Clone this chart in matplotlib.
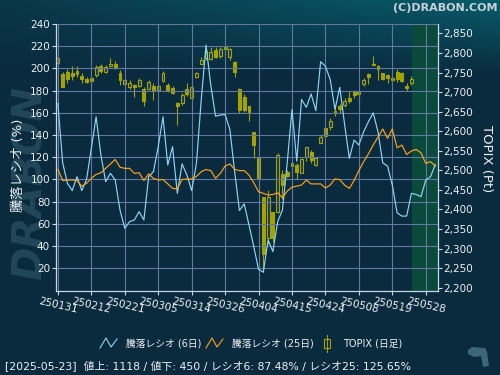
import numpy as np
import matplotlib
matplotlib.use('Agg')
import matplotlib.pyplot as plt
from matplotlib.lines import Line2D
from matplotlib.patches import Rectangle, Polygon
import matplotlib.ticker as mticker

# ---------------- data ----------------
tick_labels = ['250131', '250212', '250221', '250305', '250314', '250326',
               '250404', '250415', '250424', '250508', '250519', '250528']
tick_index = [0, 7, 14, 21, 28, 35, 42, 49, 56, 63, 70, 77]

ratio6 = [168.5, 115, 96.5, 90, 102.5, 90, 100, 128, 156.5, 122,
          98, 105.5, 99.5, 72.5, 56, 62, 63.5, 71, 63.5, 102.5,
          107, 129.5, 156.5, 113, 129.5, 87.5, 114, 104, 90, 114.5,
          171.5, 221, 185, 157, 158, 158.5, 145, 107, 72, 78,
          59, 39.5, 19, 16.5, 45.5, 35, 62, 72.5, 115, 163,
          116.5, 172, 165, 177, 162, 206, 202, 190, 163, 183,
          150, 119, 135.5, 131, 143, 152, 160, 143, 115, 112,
          95, 70, 67, 67, 87.48, 86.5, 84.5, 99.5, 102.5, 113.5]

ratio25 = [109, 99, 99.5, 99.5, 99, 94, 96.5, 101, 104.5, 106,
           110, 114, 118, 111, 110, 110, 105.5, 106, 99, 105,
           101, 99.5, 100, 96, 92, 91.5, 100, 100.4, 100.4, 102.7,
           107, 109, 108, 101, 105.5, 112, 114, 109, 108, 108,
           104, 97, 89, 87.5, 86, 86.5, 88, 83.5, 89.5, 93,
           94, 95, 99.5, 96, 96, 96, 92.3, 95, 100.5, 99.8,
           95, 92, 99, 108, 116, 123, 131, 138, 145.5, 137,
           145.5, 128.5, 131, 122.5, 125.65, 127, 124, 114.5, 116, 112]

topix_open = [2774, 2747, 2752, 2749, 2754, 2742, 2734, 2737, 2743, 2766,
              2752, 2767, 2772, 2749, 2720, 2712, 2717, 2715, 2709, 2709,
              2715, 2705, 2729, 2718, 2711, 2673, 2671, 2707, 2686, 2738,
              2773, 2786, 2784, 2807, 2791, 2816, 2790, 2777, 2707, 2688,
              2664, 2599, 2535, 2433, 2326, 2394, 2393, 2490, 2495, 2519,
              2514, 2494, 2533, 2548, 2514, 2571, 2607, 2610, 2652, 2664,
              2667, 2686, 2700, 2701, 2721, 2745, 2773, 2767, 2748, 2744,
              2737, 2752, 2748, 2715, 2724]
topix_high = [2792, 2751, 2758, 2766, 2766, 2748, 2739, 2741, 2769, 2773,
              2769, 2786, 2779, 2756, 2737, 2731, 2720, 2735, 2714, 2731,
              2722, 2724, 2754, 2724, 2715, 2675, 2697, 2724, 2718, 2752,
              2789, 2812, 2814, 2814, 2816, 2820, 2812, 2779, 2710, 2695,
              2664, 2599, 2537, 2433, 2451, 2394, 2545, 2501, 2501, 2526,
              2518, 2531, 2560, 2552, 2535, 2590, 2611, 2633, 2664, 2669,
              2685, 2703, 2705, 2704, 2735, 2748, 2792, 2769, 2750, 2746,
              2739, 2758, 2751, 2722, 2740]
topix_low = [2770, 2712, 2724, 2732, 2739, 2722, 2722, 2718, 2739, 2748,
             2748, 2763, 2758, 2718, 2715, 2707, 2688, 2712, 2664, 2705,
             2681, 2701, 2726, 2701, 2695, 2616, 2667, 2690, 2682, 2735,
             2771, 2782, 2782, 2786, 2786, 2795, 2782, 2739, 2646, 2649,
             2627, 2531, 2437, 2241, 2312, 2318, 2390, 2428, 2483, 2496,
             2477, 2492, 2525, 2518, 2511, 2569, 2583, 2603, 2639, 2647,
             2662, 2672, 2684, 2673, 2715, 2721, 2768, 2732, 2731, 2722,
             2721, 2726, 2726, 2703, 2718]
topix_close = [2787, 2714, 2733, 2741, 2746, 2733, 2726, 2728, 2765, 2754,
               2763, 2773, 2762, 2731, 2732, 2724, 2712, 2732, 2678, 2726,
               2705, 2715, 2749, 2705, 2698, 2665, 2692, 2695, 2714, 2748,
               2782, 2805, 2803, 2789, 2809, 2809, 2811, 2752, 2655, 2655,
               2647, 2565, 2478, 2286, 2433, 2326, 2539, 2462, 2486, 2511,
               2496, 2528, 2559, 2526, 2532, 2584, 2588, 2627, 2646, 2657,
               2678, 2678, 2692, 2694, 2731, 2739, 2769, 2759, 2733, 2737,
               2731, 2733, 2729, 2710, 2733]

footer = '[2025-05-23]  値上: 1118 / 値下: 450 / レシオ6: 87.48% / レシオ25: 125.65%'

# ---------------- style ----------------
W, H = 500, 375
C_BLUE = '#8fd4f4'
C_ORANGE = '#ffa418'
C_OLIVE = '#a3a300'
C_PLOT = '#1a365f'
C_GREEN = '#0a4a3b'
C_GRID = '#62789e'
C_TEXT = '#eef0f2'
C_SPINE = '#c8d8e8'
JP = ['DejaVu Sans', 'Noto Sans CJK JP']


def fx(p):
    return p / W


def fy(p):
    return 1 - p / H


fig = plt.figure(figsize=(5, 3.75), dpi=100)

# background gradient
bg = fig.add_axes([0, 0, 1, 1], zorder=-10)
yy, xx = np.mgrid[0:H, 0:W]
wgt = np.clip(1 - yy / 75.0, 0, 1) * (0.25 + 0.75 * xx / W)
base = np.array([10, 42, 62]) / 255.0
teal = np.array([8, 92, 106]) / 255.0
img = base + wgt[..., None] * (teal - base)
bg.imshow(img, aspect='auto', extent=[0, 1, 0, 1], interpolation='bilinear')
bg.axis('off')

# watermark
fig.text(fx(31), fy(183), 'DRABON', rotation=90, fontsize=29, fontweight='heavy',
         style='italic', color='#3c6a7a', alpha=0.45, ha='center', va='center',
         zorder=-5)

rect = [55.5 / W, 84.5 / H, (437.7 - 55.5) / W, (290.5 - 24) / H]
ax = fig.add_axes(rect)
ax2 = ax.twinx()
ax.set_zorder(2)
ax2.set_zorder(1)
ax.patch.set_visible(False)
ax2.patch.set_facecolor(C_PLOT)

n = len(ratio6)
x = np.arange(n)
ax.set_xlim(-0.5, n - 0.5)
ax.set_ylim(0, 240)
ax2.set_ylim(2193, 2874)

# future zone
ax2.axvspan(74.2, n - 0.5, color=C_GREEN, zorder=0, lw=0)

# candles
for i in range(len(topix_open)):
    o, h, l, c = topix_open[i], topix_high[i], topix_low[i], topix_close[i]
    ax2.vlines(i, l, h, color=C_OLIVE, lw=0.8, zorder=2)
    down = c < o
    ax2.add_patch(Rectangle((i - 0.3, min(o, c)), 0.6, max(abs(c - o), 1.0),
                            facecolor=C_OLIVE if down else C_PLOT,
                            edgecolor=C_OLIVE, lw=0.8, zorder=3))

# ratio lines
ax.plot(x, ratio6, color=C_BLUE, lw=0.85, zorder=3)
ax.plot(x, ratio25, color=C_ORANGE, lw=0.85, zorder=3)

# ticks / grid
ax.set_yticks(range(20, 241, 20))
ax2.set_yticks(range(2200, 2851, 50))
ax2.yaxis.set_major_formatter(mticker.StrMethodFormatter('{x:,.0f}'))
ax.set_xticks(tick_index)
ax.set_xticklabels(tick_labels, rotation=-13, ha='center', va='top')
ax.grid(True, color=C_GRID, lw=0.8)
ax.tick_params(axis='both', colors=C_SPINE, labelcolor=C_TEXT, labelsize=7.5,
               length=3, width=0.8, pad=1)
ax2.tick_params(axis='y', colors=C_SPINE, labelcolor=C_TEXT, labelsize=7.5,
                length=3, width=0.8, pad=1)
for a in (ax, ax2):
    a.spines['top'].set_visible(False)
    for s in ('left', 'right', 'bottom'):
        a.spines[s].set_color(C_SPINE)
        a.spines[s].set_linewidth(0.9)
ax.spines['right'].set_visible(False)
ax2.spines['left'].set_visible(False)
ax2.spines['bottom'].set_visible(False)

# axis titles
fig.text(fx(18), fy(165), '騰落レシオ (%)', rotation=90, ha='center', va='center',
         fontsize=9.5, color=C_TEXT, family=JP)
fig.text(fx(486), fy(159), 'TOPIX (Pt)', rotation=-90, ha='center', va='center',
         fontsize=9.5, color=C_TEXT, family=JP)
fig.text(fx(497), fy(8), '(C)DRABON.COM', ha='right', va='center', fontsize=8,
         fontweight='bold', color='#c8d2da')

# legend
def zig(x0, col):
    fig.add_artist(Line2D([fx(x0), fx(x0 + 6), fx(x0 + 11), fx(x0 + 17)],
                          [fy(348), fy(338), fy(347), fy(339)],
                          transform=fig.transFigure, color=col, lw=0.8))

zig(100, C_BLUE)
fig.text(fx(126), fy(343), '騰落レシオ (6日)', ha='left', va='center', fontsize=7,
         color=C_TEXT, family=JP)
zig(206, C_ORANGE)
fig.text(fx(232), fy(343), '騰落レシオ (25日)', ha='left', va='center', fontsize=7,
         color=C_TEXT, family=JP)
fig.add_artist(Line2D([fx(327), fx(327)], [fy(335), fy(352)],
                      transform=fig.transFigure, color=C_OLIVE, lw=0.8))
fig.add_artist(Rectangle((fx(324), fy(348)), fx(6), 9 / H, transform=fig.transFigure,
                         facecolor='#0a2a3e', edgecolor=C_OLIVE, lw=0.8))
fig.text(fx(343), fy(343), 'TOPIX (日足)', ha='left', va='center', fontsize=7,
         color=C_TEXT, family=JP)

# footer
fig.text(fx(5), fy(366), footer, ha='left', va='center', fontsize=7.8,
         color=C_TEXT, family=JP)

# small logo
pts = [(468, 350), (472, 347), (485, 348), (487, 352), (489, 366), (483, 367),
       (481, 356), (474, 357), (468, 354)]
fig.add_artist(Polygon([(fx(a), fy(b)) for a, b in pts], closed=True,
                       transform=fig.transFigure, facecolor='#3a6878', lw=0))

fig.savefig('out.png', dpi=100, facecolor=fig.get_facecolor())
